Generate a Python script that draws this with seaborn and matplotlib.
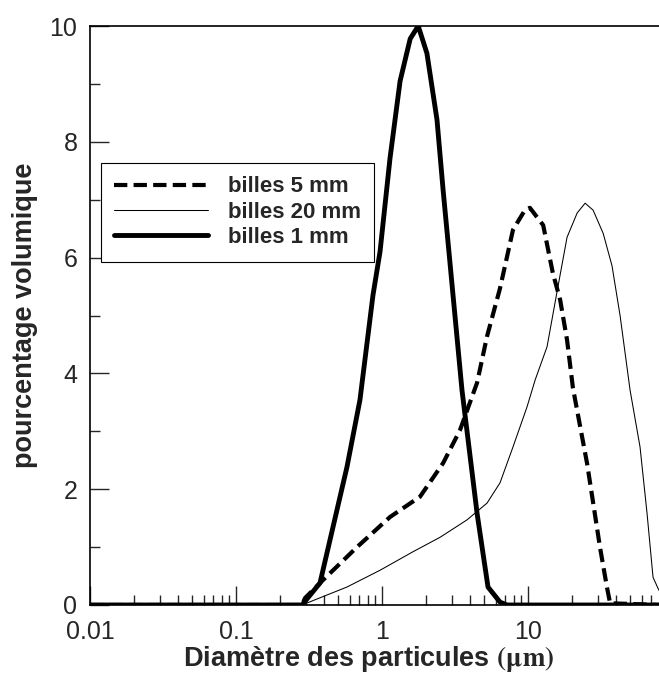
import seaborn as sns
import matplotlib.pyplot as plt
import numpy as np
import pandas as pd

# diametre (um) / pourcentage volumique
d_1mm = [0.01, 0.283, 0.376, 0.575, 0.706, 0.867, 0.969, 1.135, 1.33, 1.56, 1.77,
         2.03, 2.38, 2.62, 3.53, 4.48, 5.32, 6.43, 7.18, 80]
v_1mm = [0, 0, 0.38, 2.38, 3.54, 5.35, 6.10, 7.72, 9.05, 9.78, 10.0,
         9.53, 8.38, 7.17, 3.71, 1.58, 0.31, 0.05, 0, 0]

d_5mm = [0.01, 0.283, 0.297, 0.394, 0.674, 1.135, 1.82, 2.62, 3.42, 4.48, 5.24,
         6.43, 7.89, 9.52, 10.3, 12.7, 14.8, 16.6, 18.5, 20.3, 25.4, 31.1,
         34.7, 36.5, 80]
v_5mm = [0, 0, 0.12, 0.43, 1.0, 1.52, 1.87, 2.45, 3.02, 3.84, 4.64,
         5.47, 6.48, 6.82, 6.86, 6.56, 5.73, 5.27, 4.58, 3.75, 2.44, 1.0,
         0.31, 0.03, 0]

d_20mm = [0.01, 0.283, 0.575, 0.969, 1.63, 2.50, 3.82, 5.24, 6.43, 7.89, 9.84,
          11.2, 13.5, 15.8, 18.5, 21.7, 24.6, 27.9, 32.7, 37.6, 42.7, 50.0,
          58.5, 65.3, 71.8, 77.6, 85]
v_20mm = [0, 0, 0.31, 0.6, 0.92, 1.17, 1.47, 1.76, 2.11, 2.73, 3.42,
          3.89, 4.46, 5.41, 6.35, 6.77, 6.94, 6.82, 6.42, 5.86, 5.0, 3.71,
          2.73, 1.59, 0.48, 0.29, 0.1]

sns.set_style('ticks')
plt.rcParams['font.family'] = ['Liberation Sans', 'DejaVu Sans']
plt.rcParams['mathtext.fontset'] = 'stix'

fig = plt.figure(figsize=(6.59, 6.73), dpi=100)
ax = fig.add_axes([90/659, 68/673, 569/659, 579/673])

sns.lineplot(x=d_5mm, y=v_5mm, ax=ax, color='black', lw=3.0,
             linestyle=(0, (3.2, 1.5)), label='billes 5 mm')
sns.lineplot(x=d_20mm, y=v_20mm, ax=ax, color='black', lw=0.75,
             label='billes 20 mm')
sns.lineplot(x=d_1mm, y=v_1mm, ax=ax, color='black', lw=3.5,
             label='billes 1 mm')

ax.set_xscale('log')
ax.set_xlim(0.01, 78.9)
ax.set_ylim(0, 10)
ax.set_xticks([0.01, 0.1, 1, 10])
ax.set_xticklabels(['0.01', '0.1', '1', '10'])
ax.set_yticks([0, 2, 4, 6, 8, 10])
ax.set_yticks([1, 3, 5, 7, 9], minor=True)

ax.tick_params(which='major', direction='in', length=14, width=1, labelsize=18,
               top=False, right=False)
ax.tick_params(axis='x', which='major', pad=11)
ax.tick_params(axis='y', which='major', pad=9)
ax.tick_params(which='minor', direction='in', length=7.5, width=1, top=False, right=False)
for s in ['left', 'bottom', 'top']:
    ax.spines[s].set_linewidth(1.2)
    ax.spines[s].set_color('black')
ax.spines['right'].set_visible(False)

ax.set_xlabel(r'Diamètre des particules $\mathbf{(\mu m)}$', fontsize=19.5, fontweight='bold')
ax.set_ylabel('pourcentage volumique', fontsize=19.5, fontweight='bold')
ax.xaxis.set_label_coords(0.49, -0.068)
ax.yaxis.set_label_coords(-0.0914, 0.5)

leg = ax.legend(loc='upper left', bbox_to_anchor=(101/659, 1 - 163/673),
                bbox_transform=fig.transFigure, borderaxespad=0,
                prop={'size': 16, 'weight': 'bold'}, handlelength=4.2,
                handletextpad=0.9, labelspacing=0.2, borderpad=0.6,
                fancybox=False, framealpha=1, edgecolor='black')
leg.get_frame().set_linewidth(0.8)

fig.savefig('out.png', dpi=100)
